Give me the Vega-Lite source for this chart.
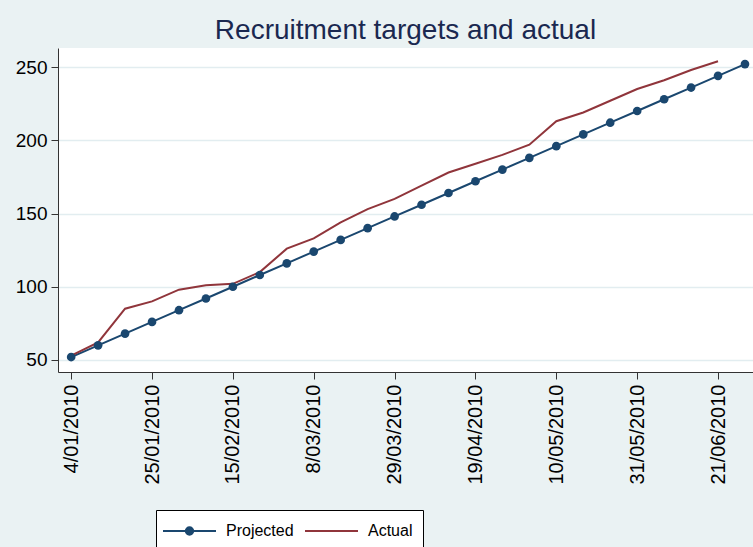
{
  "$schema": "https://vega.github.io/schema/vega-lite/v6.json",
  "width": 695,
  "height": 324,
  "autosize": {"type": "none"},
  "padding": {"left": 58, "top": 48, "right": 0, "bottom": 175},
  "background": "#eaf2f3",
  "title": {
    "text": "Recruitment targets and actual",
    "font": "Liberation Sans",
    "fontSize": 28,
    "fontWeight": "normal",
    "color": "#1a2850",
    "anchor": "middle",
    "frame": "group",
    "offset": 3
  },
  "config": {
    "view": {"stroke": null, "fill": "#ffffff"},
    "axis": {
      "labelFont": "Liberation Sans",
      "labelFontSize": 19,
      "labelColor": "#000000",
      "tickColor": "#333333",
      "domainColor": "#333333",
      "tickSize": 7,
      "title": null
    }
  },
  "data": {
    "values": [
      {"date": "2010-01-04", "series": "Projected", "value": 52},
      {"date": "2010-01-11", "series": "Projected", "value": 60},
      {"date": "2010-01-18", "series": "Projected", "value": 68},
      {"date": "2010-01-25", "series": "Projected", "value": 76},
      {"date": "2010-02-01", "series": "Projected", "value": 84},
      {"date": "2010-02-08", "series": "Projected", "value": 92},
      {"date": "2010-02-15", "series": "Projected", "value": 100},
      {"date": "2010-02-22", "series": "Projected", "value": 108},
      {"date": "2010-03-01", "series": "Projected", "value": 116},
      {"date": "2010-03-08", "series": "Projected", "value": 124},
      {"date": "2010-03-15", "series": "Projected", "value": 132},
      {"date": "2010-03-22", "series": "Projected", "value": 140},
      {"date": "2010-03-29", "series": "Projected", "value": 148},
      {"date": "2010-04-05", "series": "Projected", "value": 156},
      {"date": "2010-04-12", "series": "Projected", "value": 164},
      {"date": "2010-04-19", "series": "Projected", "value": 172},
      {"date": "2010-04-26", "series": "Projected", "value": 180},
      {"date": "2010-05-03", "series": "Projected", "value": 188},
      {"date": "2010-05-10", "series": "Projected", "value": 196},
      {"date": "2010-05-17", "series": "Projected", "value": 204},
      {"date": "2010-05-24", "series": "Projected", "value": 212},
      {"date": "2010-05-31", "series": "Projected", "value": 220},
      {"date": "2010-06-07", "series": "Projected", "value": 228},
      {"date": "2010-06-14", "series": "Projected", "value": 236},
      {"date": "2010-06-21", "series": "Projected", "value": 244},
      {"date": "2010-06-28", "series": "Projected", "value": 252},
      {"date": "2010-01-04", "series": "Actual", "value": 53},
      {"date": "2010-01-11", "series": "Actual", "value": 62},
      {"date": "2010-01-18", "series": "Actual", "value": 85},
      {"date": "2010-01-25", "series": "Actual", "value": 90},
      {"date": "2010-02-01", "series": "Actual", "value": 98},
      {"date": "2010-02-08", "series": "Actual", "value": 101},
      {"date": "2010-02-15", "series": "Actual", "value": 102},
      {"date": "2010-02-22", "series": "Actual", "value": 110},
      {"date": "2010-03-01", "series": "Actual", "value": 126},
      {"date": "2010-03-08", "series": "Actual", "value": 133},
      {"date": "2010-03-15", "series": "Actual", "value": 144},
      {"date": "2010-03-22", "series": "Actual", "value": 153},
      {"date": "2010-03-29", "series": "Actual", "value": 160},
      {"date": "2010-04-05", "series": "Actual", "value": 169},
      {"date": "2010-04-12", "series": "Actual", "value": 178},
      {"date": "2010-04-19", "series": "Actual", "value": 184},
      {"date": "2010-04-26", "series": "Actual", "value": 190},
      {"date": "2010-05-03", "series": "Actual", "value": 197},
      {"date": "2010-05-10", "series": "Actual", "value": 213},
      {"date": "2010-05-17", "series": "Actual", "value": 219},
      {"date": "2010-05-24", "series": "Actual", "value": 227},
      {"date": "2010-05-31", "series": "Actual", "value": 235},
      {"date": "2010-06-07", "series": "Actual", "value": 241},
      {"date": "2010-06-14", "series": "Actual", "value": 248},
      {"date": "2010-06-21", "series": "Actual", "value": 254}
    ]
  },
  "encoding": {
    "x": {
      "field": "date",
      "type": "temporal",
      "scale": {
        "type": "utc",
        "domain": [
          {"year": 2009, "month": 12, "date": 31, "hours": 14, "utc": true},
          {"year": 2010, "month": 6, "date": 30, "hours": 2, "utc": true}
        ]
      },
      "axis": {
        "values": [
          {"year": 2010, "month": 1, "date": 4, "utc": true},
          {"year": 2010, "month": 1, "date": 25, "utc": true},
          {"year": 2010, "month": 2, "date": 15, "utc": true},
          {"year": 2010, "month": 3, "date": 8, "utc": true},
          {"year": 2010, "month": 3, "date": 29, "utc": true},
          {"year": 2010, "month": 4, "date": 19, "utc": true},
          {"year": 2010, "month": 5, "date": 10, "utc": true},
          {"year": 2010, "month": 5, "date": 31, "utc": true},
          {"year": 2010, "month": 6, "date": 21, "utc": true}
        ],
        "format": "%-d/%m/%Y",
        "labelAngle": -90,
        "labelFontSize": 20,
        "labelPadding": 5,
        "grid": false
      }
    },
    "y": {
      "field": "value",
      "type": "quantitative",
      "scale": {"domain": [41.8, 263], "nice": false, "zero": false},
      "axis": {
        "values": [50, 100, 150, 200, 250],
        "grid": true,
        "gridColor": "#e2edf0",
        "gridWidth": 1.5,
        "labelPadding": 4
      }
    },
    "color": {
      "field": "series",
      "type": "nominal",
      "scale": {"domain": ["Projected", "Actual"], "range": ["#1a476f", "#90353b"]},
      "legend": {
        "orient": "none",
        "legendX": 98,
        "legendY": 462,
        "direction": "horizontal",
        "title": null,
        "symbolSize": 400,
        "symbolStrokeWidth": 2,
        "symbolOffset": 12.5,
        "labelFont": "Liberation Sans",
        "labelFontSize": 16,
        "labelColor": "#000000",
        "labelOffset": 25.5,
        "columnPadding": 7,
        "padding": 10,
        "strokeColor": "#000000",
        "fillColor": "#ffffff",
        "encode": {
          "symbols": {
            "update": {
              "shape": {"signal": "datum.value === 'Projected' ? 'M-2.65,0H-0.37A0.37,0.37 0 1,1 0.37,0A0.37,0.37 0 1,1 -0.37,0M0.37,0H2.65' : 'M-2.65,0H2.65'"},
              "fill": {"signal": "datum.value === 'Projected' ? '#1a476f' : 'transparent'"}
            }
          }
        }
      }
    }
  },
  "layer": [
    {"mark": {"type": "line", "strokeWidth": 2}},
    {
      "transform": [{"filter": "datum.series === 'Projected'"}],
      "mark": {"type": "point", "filled": true, "size": 75, "opacity": 1}
    }
  ]
}
